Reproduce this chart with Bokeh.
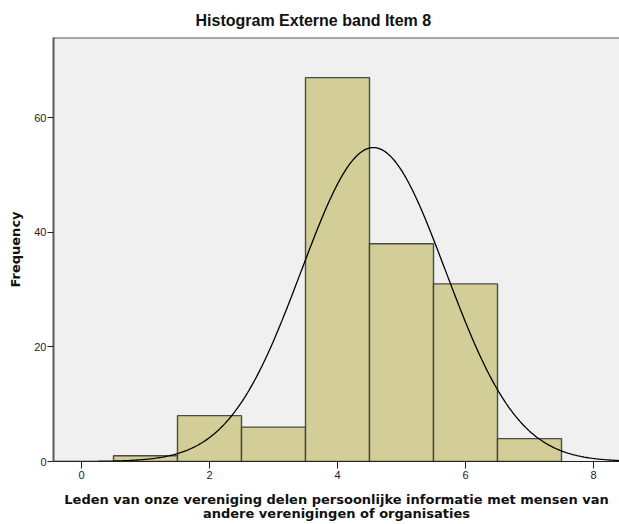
import numpy as np
from bokeh.plotting import figure
from bokeh.models import Range1d, FixedTicker, Span
from bokeh.embed import file_html
from bokeh.resources import INLINE

# ---- data ----
title_text = "Histogram Externe band Item 8"
x_label = "Leden van onze vereniging delen persoonlijke informatie met mensen van\nandere verenigingen of organisaties"
y_label = "Frequency"
scores = [1, 2, 3, 4, 5, 6, 7]
counts = [1, 8, 6, 67, 38, 31, 4]
x_ticks = [0, 2, 4, 6, 8]
y_ticks = [0, 20, 40, 60]

FONT = "Liberation Sans"
LFONT = "DejaVu Sans"
x_start, x_end = -0.4375, 8.406
y_start, y_end = 0, 74

p = figure(width=619, height=524, x_range=Range1d(x_start, x_end), y_range=Range1d(y_start, y_end),
           output_backend="svg", toolbar_location=None,
           min_border_left=53, min_border_right=0, min_border_top=37, min_border_bottom=63,
           background_fill_color="#F0F0F0", border_fill_color="white", outline_line_color=None)

p.xgrid.visible = False
p.ygrid.visible = False

# title
p.title.text = title_text
p.title.text_font = FONT
p.title.text_font_size = "16px"
p.title.text_font_style = "bold"
p.title.text_color = "#111111"
p.title.align = "left"
p.title.offset = 142
p.title.standoff = 17

# bars
sc = np.array(scores, dtype=float)
p.quad(left=sc - 0.5, right=sc + 0.5, bottom=0, top=counts,
       fill_color="#D3CE97", line_color="#3a3a3a", line_width=1.4, line_alpha=0.9)

# fitted normal curve from the histogram data
cnt = np.array(counts, dtype=float)
n = cnt.sum()
mean = (sc * cnt).sum() / n
sd = np.sqrt(((sc - mean) ** 2 * cnt).sum() / (n - 1))
xs = np.linspace(x_start, x_end, 400)
ys = n * 1.0 * np.exp(-0.5 * ((xs - mean) / sd) ** 2) / (sd * np.sqrt(2 * np.pi))
p.line(xs, ys, line_color="black", line_width=1.3)

# top border
p.add_layout(Span(location=y_end, dimension="width", line_color="#5a5a5a", line_width=2))

# axes
xa = p.xaxis[0]
xa.ticker = FixedTicker(ticks=x_ticks)
xa.major_tick_out = 7
xa.major_tick_in = 0
xa.minor_tick_line_color = None
xa.axis_line_color = "#222222"
xa.major_tick_line_color = "#222222"
xa.major_label_text_font = FONT
xa.major_label_text_font_size = "11px"
xa.major_label_text_color = "#222222"
xa.major_label_standoff = 2
xa.axis_label = x_label
xa.axis_label_text_font = LFONT
xa.axis_label_text_font_size = "13px"
xa.axis_label_text_font_style = "bold"
xa.axis_label_text_color = "#111111"
xa.axis_label_text_line_height = 0.95
xa.axis_label_standoff = 10

ya = p.yaxis[0]
ya.ticker = FixedTicker(ticks=y_ticks)
ya.major_tick_out = 6
ya.major_tick_in = 0
ya.minor_tick_line_color = None
ya.axis_line_color = "#5a5a5a"
ya.axis_line_width = 2
ya.major_tick_line_color = "#222222"
ya.major_label_text_font = FONT
ya.major_label_text_font_size = "11px"
ya.major_label_text_color = "#222222"
ya.major_label_standoff = 1
ya.axis_label = y_label
ya.axis_label_text_font = LFONT
ya.axis_label_text_font_size = "13px"
ya.axis_label_text_font_style = "bold"
ya.axis_label_text_color = "#111111"
ya.axis_label_standoff = 8

open("out.html", "w").write(file_html(p, INLINE))
